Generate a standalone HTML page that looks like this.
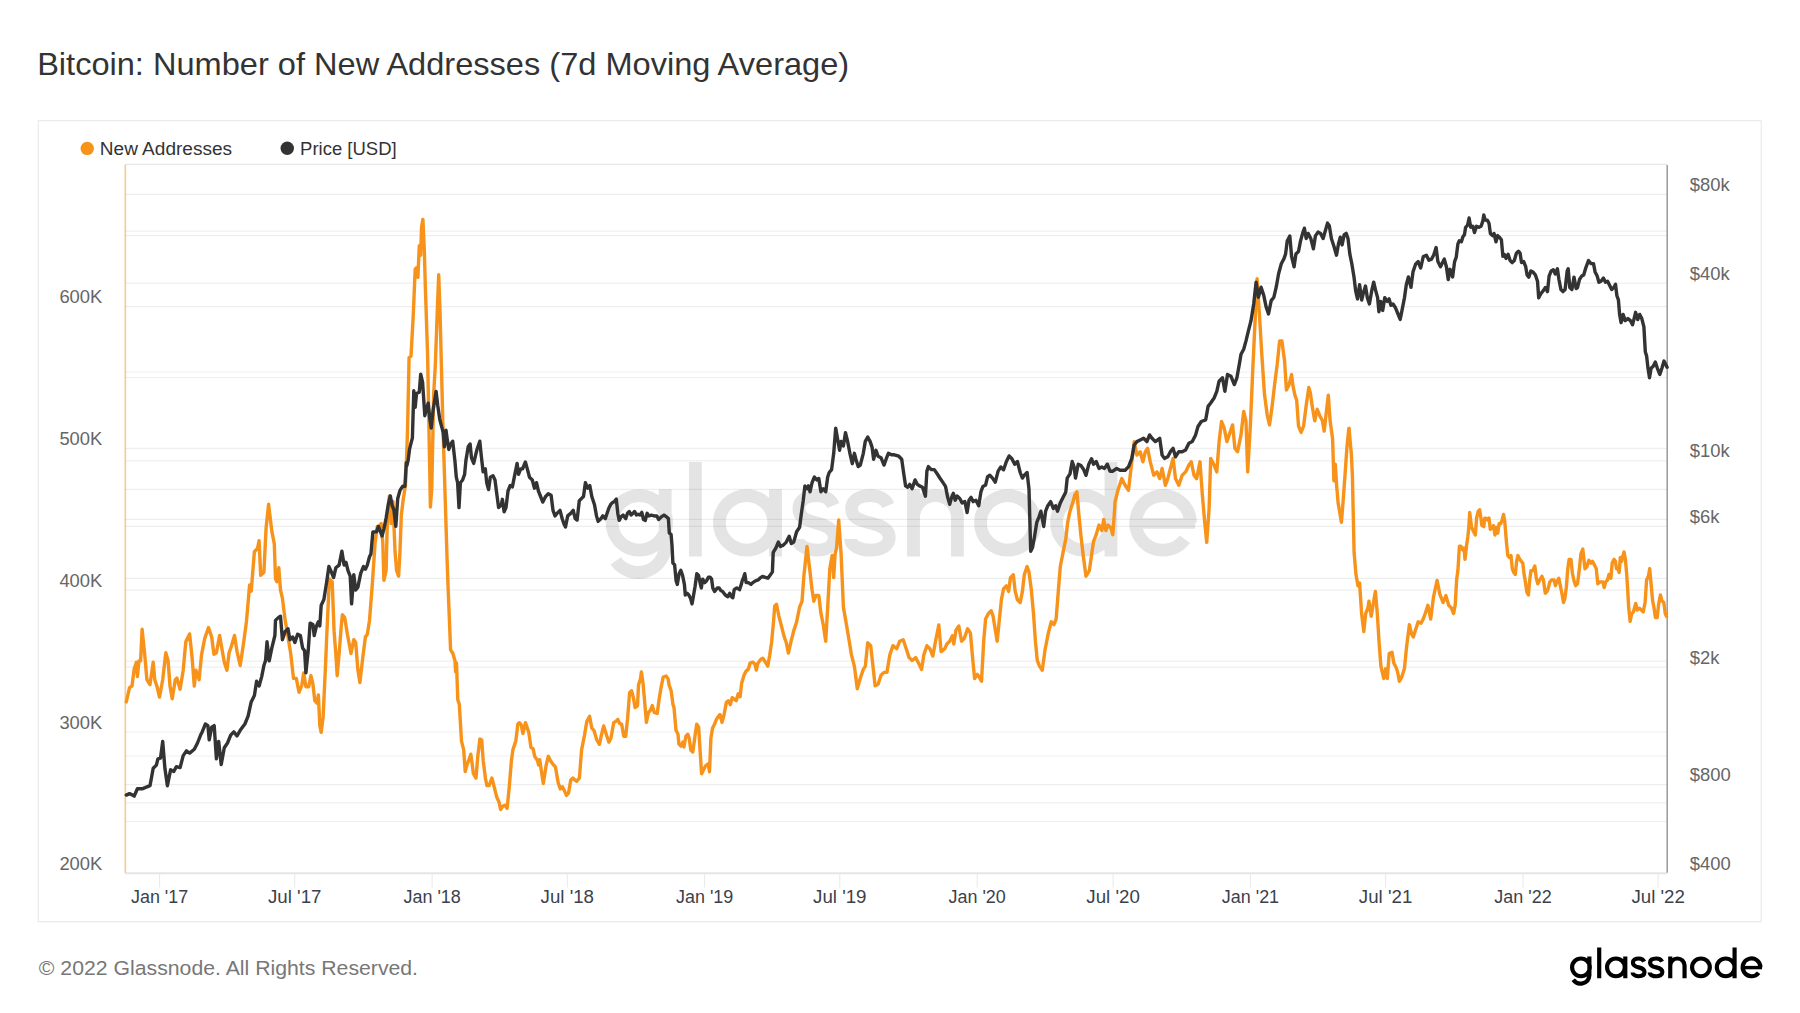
<!DOCTYPE html>
<html><head><meta charset="utf-8"><style>
html,body{margin:0;padding:0;background:#fff;width:1800px;height:1013px;overflow:hidden}
svg{display:block}
text{font-family:"Liberation Sans",sans-serif}
.title{font-size:31.7px;fill:#333}
.leg{font-size:18.8px;fill:#333}
.xl{font-size:18.7px;fill:#3b414c}
.yl{font-size:18.4px;fill:#666}
.foot{font-size:20.9px;fill:#777}
.logo{font-size:41px;fill:#000;stroke:#000;stroke-width:0.6px}
.wm{font-size:131px;fill:#e4e4e4}
</style></head><body>
<svg width="1800" height="1013" viewBox="0 0 1800 1013">
<text transform="translate(37.14,74.85) scale(1.0277,1)" class="title">Bitcoin: Number of New Addresses (7d Moving Average)</text>
<rect x="38.2" y="120.7" width="1723" height="801" fill="none" stroke="#e6e6e6" stroke-width="1"/>
<circle cx="87.25" cy="148.4" r="6.7" fill="#f7931a"/><text transform="translate(99.8,154.8) scale(1.0132,1)" class="leg">New Addresses</text>
<circle cx="287.25" cy="148.3" r="6.7" fill="#333"/><text transform="translate(300.1,154.9) scale(0.984,1)" class="leg">Price [USD]</text>
<g fill="none" stroke="#e4e4e4"><path d="M666.60 522.85 A27.25 27.25 0 1 0 612.10 522.85 A27.25 27.25 0 1 0 666.60 522.85 M665.20 489.20 V547.30 A27.25 27.25 0 0 1 615.75 560.92 M695.35 462.00 V556.50 M773.90 522.85 A27.25 27.25 0 1 0 719.40 522.85 A27.25 27.25 0 1 0 773.90 522.85 M775.50 489.20 V556.50 M833.40 505.5 C830.40 498.5 824.65 495.60 816.65 495.60 C806.90 495.60 798.90 500 798.90 508.5 C798.90 517 804.90 520 816.65 523 C828.40 526 834.40 530 834.40 537.5 C834.40 546 826.65 550.20 816.65 550.20 C807.90 550.20 797.90 546 797.90 539 M888.30 505.5 C885.30 498.5 878.45 495.60 870.45 495.60 C859.60 495.60 851.60 500 851.60 508.5 C851.60 517 857.60 520 870.45 523 C883.30 526 889.30 530 889.30 537.5 C889.30 546 880.45 550.20 870.45 550.20 C860.60 550.20 850.60 546 850.60 539 M913.50 489.20 V556.50 M913.50 556.50 V517.55 A21.95 21.95 0 0 1 957.40 517.55 V556.50 M1035.00 522.85 A27.25 27.25 0 1 0 980.50 522.85 A27.25 27.25 0 1 0 1035.00 522.85 M1111.00 522.85 A27.25 27.25 0 1 0 1056.50 522.85 A27.25 27.25 0 1 0 1111.00 522.85 M1111.00 462.00 V556.50 M1190.30 522.85 A27.25 27.25 0 1 0 1184.81 539.25" stroke-width="12.80"/><path d="M1131.40 523.6 H1195.20" stroke-width="10.5"/></g>
<g stroke="#000" stroke-opacity="0.065" stroke-width="1.2"><line x1="125" y1="235.7" x2="1667" y2="235.7"/><line x1="125" y1="306.6" x2="1667" y2="306.6"/><line x1="125" y1="377.5" x2="1667" y2="377.5"/><line x1="125" y1="448.4" x2="1667" y2="448.4"/><line x1="125" y1="519.3" x2="1667" y2="519.3"/><line x1="125" y1="590.2" x2="1667" y2="590.2"/><line x1="125" y1="661.1" x2="1667" y2="661.1"/><line x1="125" y1="732.0" x2="1667" y2="732.0"/><line x1="125" y1="802.9" x2="1667" y2="802.9"/><line x1="125" y1="873.8" x2="1667" y2="873.8"/><line x1="125" y1="194.3" x2="1667" y2="194.3"/><line x1="125" y1="231.1" x2="1667" y2="231.1"/><line x1="125" y1="283.1" x2="1667" y2="283.1"/><line x1="125" y1="372.0" x2="1667" y2="372.0"/><line x1="125" y1="460.8" x2="1667" y2="460.8"/><line x1="125" y1="489.4" x2="1667" y2="489.4"/><line x1="125" y1="526.3" x2="1667" y2="526.3"/><line x1="125" y1="578.3" x2="1667" y2="578.3"/><line x1="125" y1="667.1" x2="1667" y2="667.1"/><line x1="125" y1="756.0" x2="1667" y2="756.0"/><line x1="125" y1="784.6" x2="1667" y2="784.6"/><line x1="125" y1="821.5" x2="1667" y2="821.5"/></g>
<line x1="125" y1="164.3" x2="1667" y2="164.3" stroke="#e0e0e0" stroke-width="1"/>
<line x1="125" y1="873" x2="1667" y2="873" stroke="#d8d8d8" stroke-width="1"/>
<line x1="159.6" y1="873" x2="159.6" y2="887.5" stroke="#e8e8e8"/>
<text transform="translate(159.60,902.9) scale(0.960,1)" class="xl" text-anchor="middle">Jan '17</text>
<line x1="294.7" y1="873" x2="294.7" y2="887.5" stroke="#e8e8e8"/>
<text transform="translate(294.74,902.9) scale(1.000,1)" class="xl" text-anchor="middle">Jul '17</text>
<line x1="432.1" y1="873" x2="432.1" y2="887.5" stroke="#e8e8e8"/>
<text transform="translate(432.12,902.9) scale(0.960,1)" class="xl" text-anchor="middle">Jan '18</text>
<line x1="567.3" y1="873" x2="567.3" y2="887.5" stroke="#e8e8e8"/>
<text transform="translate(567.27,902.9) scale(1.000,1)" class="xl" text-anchor="middle">Jul '18</text>
<line x1="704.6" y1="873" x2="704.6" y2="887.5" stroke="#e8e8e8"/>
<text transform="translate(704.65,902.9) scale(0.960,1)" class="xl" text-anchor="middle">Jan '19</text>
<line x1="839.8" y1="873" x2="839.8" y2="887.5" stroke="#e8e8e8"/>
<text transform="translate(839.79,902.9) scale(1.000,1)" class="xl" text-anchor="middle">Jul '19</text>
<line x1="977.2" y1="873" x2="977.2" y2="887.5" stroke="#e8e8e8"/>
<text transform="translate(977.17,902.9) scale(0.960,1)" class="xl" text-anchor="middle">Jan '20</text>
<line x1="1113.1" y1="873" x2="1113.1" y2="887.5" stroke="#e8e8e8"/>
<text transform="translate(1113.06,902.9) scale(1.000,1)" class="xl" text-anchor="middle">Jul '20</text>
<line x1="1250.4" y1="873" x2="1250.4" y2="887.5" stroke="#e8e8e8"/>
<text transform="translate(1250.44,902.9) scale(0.960,1)" class="xl" text-anchor="middle">Jan '21</text>
<line x1="1385.6" y1="873" x2="1385.6" y2="887.5" stroke="#e8e8e8"/>
<text transform="translate(1385.58,902.9) scale(1.000,1)" class="xl" text-anchor="middle">Jul '21</text>
<line x1="1523.0" y1="873" x2="1523.0" y2="887.5" stroke="#e8e8e8"/>
<text transform="translate(1522.96,902.9) scale(0.960,1)" class="xl" text-anchor="middle">Jan '22</text>
<line x1="1658.1" y1="873" x2="1658.1" y2="887.5" stroke="#e8e8e8"/>
<text transform="translate(1658.11,902.9) scale(1.000,1)" class="xl" text-anchor="middle">Jul '22</text>
<text x="59.4" y="303.14" class="yl">600K</text>
<text x="59.4" y="444.93" class="yl">500K</text>
<text x="59.4" y="586.72" class="yl">400K</text>
<text x="59.4" y="728.51" class="yl">300K</text>
<text x="59.4" y="870.30" class="yl">200K</text>
<text x="1689.8" y="190.77" class="yl">$80k</text>
<text x="1689.8" y="279.62" class="yl">$40k</text>
<text x="1689.8" y="457.33" class="yl">$10k</text>
<text x="1689.8" y="522.81" class="yl">$6k</text>
<text x="1689.8" y="663.65" class="yl">$2k</text>
<text x="1689.8" y="781.11" class="yl">$800</text>
<text x="1689.8" y="869.96" class="yl">$400</text>
<line x1="125.3" y1="165" x2="125.3" y2="872.7" stroke="#f7931a" stroke-opacity="0.5" stroke-width="1.6"/>
<line x1="1667.2" y1="165" x2="1667.2" y2="872.8" stroke="#999" stroke-width="1.5"/>
<path d="M126.3 701.9 L129.5 687.6 L132.0 686.0 L134.2 668.7 L136.4 662.3 L137.4 676.6 L139.0 660.8 L140.6 660.8 L142.1 629.1 L144.7 654.4 L146.9 679.7 L150.0 684.5 L153.2 662.3 L154.8 679.7 L157.3 687.6 L159.5 697.1 L162.7 679.7 L165.8 652.8 L168.1 660.8 L170.0 686.0 L172.2 698.7 L175.3 679.7 L176.9 678.1 L180.1 689.2 L183.2 670.2 L185.8 641.8 L189.6 633.9 L192.1 657.6 L194.3 686.0 L195.9 670.2 L199.1 679.7 L201.6 654.4 L204.7 638.6 L208.5 627.5 L211.7 637.0 L213.9 654.4 L216.4 652.8 L219.6 635.5 L221.8 648.1 L224.3 662.3 L226.9 670.2 L229.1 652.8 L231.3 646.5 L234.5 635.5 L237.0 651.3 L240.2 665.5 L243.3 644.9 L246.5 621.2 L249.6 584.9 L251.2 591.2 L254.4 551.7 L257.5 548.5 L259.1 540.6 L260.7 575.4 L263.9 572.2 L266.1 527.9 L268.6 504.2 L271.8 531.1 L274.3 543.8 L275.5 578.9 L276.9 581.7 L278.8 567.8 L280.5 590.0 L282.4 598.2 L285.2 620.4 L288.0 637.0 L290.7 653.5 L293.5 678.4 L296.3 678.4 L299.0 692.3 L301.8 685.3 L303.7 672.9 L305.9 686.7 L308.7 686.7 L310.9 675.7 L312.9 684.0 L314.8 700.6 L317.0 703.3 L318.4 695.0 L319.8 725.4 L321.2 732.4 L323.1 717.1 L325.3 670.1 L326.7 637.0 L329.4 578.9 L332.2 581.7 L334.1 631.4 L335.8 653.5 L337.2 675.7 L339.1 653.5 L341.3 625.9 L342.4 614.8 L344.7 617.6 L347.4 634.2 L351.0 653.5 L353.8 639.7 L355.7 642.5 L357.9 670.1 L359.9 682.6 L362.6 659.1 L365.4 637.0 L367.3 634.2 L369.5 620.4 L372.3 584.4 L375.1 542.9 L377.3 526.4 L379.2 526.4 L381.2 523.6 L382.8 542.9 L383.9 580.3 L386.1 570.6 L387.5 515.3 L389.4 495.9 L391.1 523.6 L393.0 501.5 L395.0 551.2 L396.6 570.6 L398.6 576.1 L400.0 551.2 L401.3 515.3 L403.3 498.7 L405.5 484.9 L407.4 435.0 L409.1 357.6 L411.0 356.2 L413.2 316.1 L415.2 269.1 L416.5 267.7 L417.9 277.4 L419.3 245.6 L420.7 255.3 L421.5 227.6 L422.9 219.4 L424.3 249.8 L425.4 288.5 L427.6 354.8 L430.4 507.0 L431.8 487.6 L433.7 393.5 L435.3 365.9 L437.3 310.6 L438.7 274.7 L440.0 310.6 L442.8 421.2 L447.0 556.8 L448.0 585.0 L450.6 649.9 L452.8 653.2 L455.0 660.8 L455.6 671.7 L456.5 663.0 L457.8 699.9 L459.3 704.2 L461.5 741.1 L463.7 749.8 L465.2 771.5 L466.9 765.0 L468.6 760.7 L470.8 754.2 L472.3 765.0 L473.4 773.7 L476.0 778.0 L477.8 756.3 L479.9 739.0 L481.7 740.0 L483.2 760.7 L485.4 778.0 L486.9 785.6 L489.1 785.6 L491.9 778.0 L494.1 786.7 L496.9 797.6 L499.0 801.9 L500.6 809.5 L502.7 806.3 L504.9 805.2 L507.1 808.4 L509.3 786.7 L511.4 760.7 L512.9 749.8 L514.7 744.4 L515.8 741.1 L517.9 723.8 L519.5 722.7 L521.2 724.8 L522.9 733.5 L525.5 722.7 L528.8 732.4 L531.0 747.6 L533.1 748.7 L534.7 756.3 L537.5 760.7 L538.6 765.0 L539.7 759.6 L541.8 773.7 L543.3 783.5 L546.2 765.0 L548.3 756.3 L550.5 760.7 L552.7 763.9 L555.5 767.2 L558.1 782.4 L560.3 788.9 L562.4 786.7 L564.6 791.1 L566.4 795.4 L568.5 793.2 L570.7 780.2 L572.9 778.0 L575.0 780.2 L576.6 781.3 L579.4 778.0 L581.6 749.8 L584.6 734.6 L586.8 721.6 L589.6 716.2 L591.8 728.1 L593.9 730.3 L596.8 740.0 L599.4 744.4 L601.5 734.6 L603.7 725.9 L606.9 736.2 L608.9 742.1 L610.9 738.2 L613.8 722.4 L615.8 721.4 L617.8 719.4 L619.7 723.4 L621.7 724.3 L623.7 736.2 L625.7 736.2 L627.6 718.4 L629.6 692.8 L631.6 690.8 L633.6 698.7 L635.1 707.6 L637.5 705.6 L638.5 684.9 L640.5 678.9 L641.4 672.0 L643.0 682.9 L644.4 698.7 L646.4 722.4 L648.4 712.5 L650.3 710.5 L652.3 705.6 L654.3 712.5 L657.2 713.5 L659.2 698.7 L661.2 686.8 L663.2 677.0 L666.1 676.0 L668.1 678.9 L669.1 684.9 L671.1 690.8 L673.0 704.6 L674.0 707.6 L676.0 730.3 L678.0 734.2 L678.9 744.1 L680.9 746.1 L682.9 742.1 L683.9 747.0 L685.9 736.2 L687.8 734.2 L689.2 738.2 L690.8 750.0 L692.8 752.0 L694.7 738.2 L696.7 724.3 L698.7 727.3 L700.3 753.9 L701.6 773.7 L703.6 769.7 L705.6 765.8 L708.2 763.8 L709.5 771.7 L710.9 738.2 L712.5 728.3 L714.5 724.3 L716.4 719.4 L718.4 716.4 L720.0 714.5 L722.0 722.4 L723.9 715.5 L726.3 702.6 L728.3 700.7 L730.3 704.6 L732.2 697.7 L736.2 700.7 L738.2 693.8 L740.1 696.7 L741.7 682.9 L744.1 675.0 L746.1 671.1 L748.4 669.1 L750.0 663.2 L753.0 662.2 L754.9 664.1 L756.3 670.1 L757.9 663.2 L760.9 659.2 L762.8 658.2 L764.8 661.2 L767.8 666.1 L769.7 655.3 L771.7 641.4 L773.7 619.7 L774.7 605.9 L776.5 604.3 L778.9 616.1 L781.2 625.0 L784.2 636.8 L786.3 642.8 L788.4 653.1 L790.7 642.8 L793.7 630.9 L796.6 622.0 L799.6 607.2 L802.0 601.3 L804.0 574.7 L807.0 546.5 L810.0 571.7 L812.0 589.5 L813.8 601.3 L815.9 595.4 L818.8 595.4 L820.9 613.2 L823.3 625.0 L825.7 641.3 L827.7 607.2 L829.8 568.8 L832.2 555.4 L833.7 577.6 L835.1 553.9 L836.6 548.0 L838.7 519.9 L841.1 553.9 L843.4 607.2 L845.5 619.1 L848.5 636.8 L851.4 654.6 L854.4 666.4 L857.3 688.7 L860.3 678.3 L863.3 669.4 L865.3 666.4 L867.7 642.8 L870.7 645.7 L873.0 666.4 L875.1 685.7 L878.1 684.2 L881.0 675.3 L884.0 672.4 L886.9 672.4 L889.9 654.6 L892.9 645.7 L896.7 648.7 L899.7 641.3 L903.2 639.8 L906.2 648.7 L909.1 657.6 L912.1 660.5 L915.7 657.6 L919.5 665.0 L921.6 669.4 L923.9 654.6 L926.9 645.7 L929.9 648.7 L932.8 656.1 L935.8 639.8 L938.8 625.0 L941.1 651.6 L944.7 648.7 L946.9 644.0 L949.7 641.2 L952.4 635.7 L953.8 644.0 L956.0 630.1 L958.8 626.0 L961.6 641.2 L964.3 638.4 L967.6 628.8 L970.4 632.9 L972.6 657.8 L974.6 678.5 L977.3 674.4 L979.3 677.1 L981.5 681.3 L983.7 641.2 L985.6 619.1 L988.4 613.5 L991.2 610.8 L993.1 616.3 L995.3 630.1 L997.2 641.2 L999.4 619.1 L1001.4 599.7 L1003.6 588.7 L1006.4 585.9 L1008.6 591.4 L1010.5 577.6 L1013.3 574.8 L1015.2 591.4 L1017.4 599.7 L1020.2 602.5 L1022.4 591.4 L1024.3 574.8 L1027.1 566.5 L1029.0 572.1 L1031.2 588.7 L1033.5 613.5 L1035.4 641.2 L1037.3 660.6 L1039.5 666.1 L1042.3 670.2 L1045.1 649.5 L1048.4 632.9 L1051.2 621.8 L1053.9 624.6 L1056.1 619.1 L1058.3 591.4 L1060.3 566.5 L1063.0 552.7 L1065.8 538.9 L1067.7 522.3 L1070.0 511.2 L1072.7 502.9 L1074.9 494.7 L1076.9 491.9 L1078.8 514.0 L1081.0 536.1 L1083.2 555.5 L1086.0 576.2 L1089.3 570.7 L1091.5 555.5 L1093.5 541.7 L1096.2 534.7 L1099.0 525.1 L1101.8 530.6 L1103.7 519.5 L1105.9 530.6 L1108.1 525.1 L1110.9 527.8 L1112.8 534.7 L1114.7 508.5 L1115.0 502.1 L1118.4 488.7 L1121.8 478.6 L1125.1 485.3 L1128.5 490.3 L1131.8 461.8 L1134.2 441.6 L1136.9 455.1 L1140.2 451.7 L1142.9 461.8 L1145.3 451.7 L1147.6 448.4 L1150.3 461.8 L1153.7 475.2 L1157.0 471.9 L1159.7 478.6 L1162.1 468.5 L1165.4 485.3 L1167.8 478.6 L1170.4 468.5 L1173.1 458.4 L1175.5 478.6 L1178.8 485.3 L1182.2 475.2 L1185.6 471.9 L1188.9 465.1 L1191.3 461.8 L1194.0 475.2 L1196.6 478.6 L1200.0 461.8 L1202.4 495.4 L1204.7 522.2 L1206.7 542.4 L1209.1 508.8 L1210.7 458.4 L1214.1 465.1 L1216.8 471.9 L1219.1 441.6 L1221.5 421.5 L1224.2 428.2 L1226.9 441.6 L1229.2 434.9 L1232.6 424.9 L1234.9 448.4 L1237.6 451.7 L1241.0 434.9 L1243.7 411.4 L1246.0 421.5 L1247.7 471.9 L1250.4 424.9 L1252.7 371.1 L1255.1 320.7 L1257.1 278.8 L1259.4 314.0 L1261.8 354.3 L1264.5 394.6 L1267.2 414.8 L1269.5 424.9 L1271.9 408.1 L1274.6 384.6 L1277.2 364.4 L1279.6 340.9 L1281.9 340.9 L1284.6 361.0 L1286.4 390.0 L1289.0 384.9 L1291.6 374.6 L1292.8 384.9 L1294.9 395.1 L1296.7 400.3 L1298.5 426.0 L1301.1 432.4 L1303.6 426.0 L1306.2 405.4 L1308.8 387.4 L1310.3 392.6 L1312.1 405.4 L1314.7 420.8 L1317.2 409.3 L1319.8 415.7 L1322.4 420.8 L1324.2 431.1 L1326.2 413.1 L1328.3 395.1 L1330.1 420.8 L1332.6 438.8 L1333.9 480.8 L1335.3 464.2 L1336.7 486.4 L1338.1 502.9 L1341.4 522.3 L1343.0 502.9 L1345.0 475.3 L1346.9 447.6 L1348.8 428.5 L1349.1 428.3 L1350.6 446.5 L1351.3 453.2 L1352.4 475.3 L1353.3 516.8 L1354.1 552.7 L1356.0 574.8 L1358.0 585.9 L1359.6 583.1 L1361.6 613.5 L1363.8 631.5 L1365.7 613.5 L1367.9 608.0 L1369.0 601.1 L1371.2 616.3 L1373.5 602.5 L1375.4 591.4 L1377.3 613.5 L1379.0 641.2 L1380.9 666.1 L1383.7 678.5 L1385.6 668.8 L1387.3 678.5 L1389.2 653.6 L1392.0 652.3 L1393.9 663.3 L1396.1 667.5 L1397.5 671.6 L1399.4 681.3 L1401.7 677.1 L1404.4 668.8 L1406.6 646.7 L1409.4 624.6 L1411.3 632.9 L1413.3 637.1 L1415.5 630.1 L1418.2 621.8 L1421.0 623.2 L1423.2 619.1 L1425.2 613.5 L1427.9 605.3 L1430.7 619.1 L1433.5 597.0 L1437.1 580.4 L1439.8 594.2 L1443.1 602.5 L1445.9 595.6 L1448.7 605.3 L1451.4 608.0 L1453.6 613.5 L1455.3 604.4 L1456.6 580.0 L1457.9 570.6 L1459.4 546.3 L1460.9 546.3 L1462.8 550.0 L1464.1 548.1 L1465.0 559.4 L1466.5 546.3 L1467.8 536.9 L1468.8 527.5 L1469.7 512.5 L1471.6 527.5 L1473.4 531.3 L1475.3 535.0 L1476.6 518.1 L1478.1 511.6 L1479.6 509.7 L1480.9 518.1 L1481.9 525.6 L1483.8 526.6 L1484.7 518.1 L1486.0 518.1 L1487.5 520.0 L1489.0 518.1 L1490.3 529.4 L1492.2 527.5 L1493.5 525.6 L1495.0 535.0 L1496.5 527.5 L1497.8 533.1 L1499.1 523.8 L1500.6 523.8 L1502.1 520.0 L1503.5 514.4 L1504.8 521.9 L1506.3 540.6 L1507.8 555.6 L1509.6 557.5 L1511.0 555.6 L1512.3 568.8 L1513.8 572.5 L1515.3 574.4 L1516.6 561.3 L1517.9 555.6 L1519.8 559.4 L1521.3 561.3 L1522.8 563.1 L1524.1 574.4 L1525.4 581.9 L1526.9 592.2 L1528.4 595.0 L1529.7 580.0 L1531.0 570.6 L1532.9 570.6 L1534.8 566.0 L1536.3 578.2 L1537.8 583.8 L1539.7 580.0 L1541.9 576.3 L1543.4 580.0 L1545.3 593.2 L1547.2 591.3 L1548.5 587.5 L1549.8 581.9 L1551.7 580.0 L1554.1 580.0 L1555.4 585.7 L1556.9 581.9 L1558.8 578.2 L1560.7 587.5 L1562.2 595.0 L1563.5 602.5 L1564.8 598.8 L1566.3 587.5 L1567.8 568.8 L1569.1 559.4 L1571.0 559.4 L1572.3 572.5 L1573.8 580.0 L1575.7 585.7 L1577.5 583.8 L1579.4 568.8 L1580.9 553.8 L1582.8 549.1 L1584.1 561.3 L1585.0 568.8 L1586.9 566.9 L1588.8 560.3 L1591.0 563.1 L1592.5 561.3 L1594.4 565.0 L1596.3 568.8 L1597.8 583.8 L1600.0 581.9 L1602.9 581.9 L1604.2 587.5 L1605.7 581.9 L1607.5 580.0 L1609.0 574.4 L1610.9 578.2 L1612.2 563.1 L1614.1 559.4 L1615.4 561.3 L1616.5 568.8 L1617.9 568.8 L1619.2 572.5 L1620.3 557.5 L1621.6 561.3 L1622.5 557.5 L1624.0 551.9 L1625.4 559.4 L1626.7 574.4 L1627.8 591.3 L1628.6 606.3 L1630.1 621.3 L1631.6 613.8 L1633.4 611.9 L1635.7 603.5 L1637.2 610.0 L1639.4 608.2 L1641.3 610.0 L1643.2 611.9 L1645.1 602.5 L1646.6 580.0 L1648.4 576.3 L1649.7 568.8 L1651.1 583.8 L1652.6 600.7 L1654.1 608.2 L1655.4 617.5 L1657.2 617.5 L1658.6 604.4 L1660.4 595.0 L1661.9 600.7 L1663.8 602.5 L1665.3 613.8 L1666.6 616.6" fill="none" stroke="#f7931a" stroke-width="3.4" stroke-linejoin="round" stroke-linecap="round"/>
<path d="M126.3 795.1 L129.5 793.6 L134.2 796.1 L137.4 788.8 L142.1 788.8 L150.0 785.7 L153.2 768.3 L156.4 765.1 L157.9 758.8 L160.5 758.1 L162.7 741.4 L164.9 768.3 L167.4 785.7 L170.6 769.8 L173.8 771.4 L176.3 766.7 L180.1 767.6 L183.2 755.6 L186.4 750.9 L189.6 753.1 L194.3 749.3 L197.5 743.0 L200.6 735.1 L202.2 731.9 L205.4 724.0 L207.9 725.6 L209.2 739.8 L211.7 727.2 L214.2 725.6 L216.4 758.8 L218.7 741.4 L221.2 764.5 L224.3 747.7 L227.5 743.0 L230.7 735.1 L233.8 731.9 L237.0 736.0 L240.2 730.3 L244.9 724.0 L248.1 716.1 L251.2 701.9 L254.4 695.5 L256.6 681.3 L259.1 686.0 L261.7 676.6 L263.9 665.5 L265.5 660.8 L267.0 641.8 L269.2 660.8 L271.8 648.1 L274.9 635.5 L275.5 620.4 L278.3 617.6 L280.5 616.2 L282.4 639.7 L285.2 631.4 L288.0 628.7 L289.9 639.7 L292.7 637.0 L294.9 642.5 L297.6 634.2 L300.4 635.6 L302.6 648.0 L304.6 650.8 L305.9 672.9 L308.2 650.8 L310.1 623.1 L312.9 624.5 L314.2 635.6 L316.5 625.9 L318.4 621.8 L319.8 625.9 L321.2 605.2 L323.9 599.6 L326.7 581.7 L328.9 566.5 L330.8 570.6 L333.6 577.5 L335.8 567.8 L339.1 565.1 L341.9 551.2 L344.1 565.1 L346.0 562.3 L348.0 570.6 L350.2 576.1 L351.6 603.8 L353.8 574.7 L355.7 590.0 L357.9 587.2 L360.7 573.4 L363.5 566.5 L365.4 569.2 L367.3 565.1 L369.5 556.8 L370.9 554.0 L372.9 531.9 L376.5 531.9 L378.4 526.4 L380.6 531.9 L382.0 536.0 L383.9 529.1 L386.1 518.1 L388.3 504.2 L390.3 495.9 L392.2 505.6 L393.9 509.8 L395.8 526.4 L397.7 498.7 L400.0 490.4 L402.7 486.3 L404.9 486.3 L406.3 462.7 L406.9 465.5 L408.2 459.9 L409.6 448.8 L412.4 437.8 L413.8 390.8 L415.2 407.4 L416.5 393.5 L419.3 392.2 L420.7 374.2 L422.6 382.5 L424.8 415.7 L426.2 410.1 L428.2 403.2 L429.8 418.4 L431.2 428.1 L433.1 410.1 L436.1 391.5 L437.7 405.3 L439.7 419.1 L441.1 424.7 L443.3 432.9 L444.4 446.8 L446.0 430.2 L447.1 438.5 L448.8 449.5 L450.7 444.0 L452.7 441.2 L454.9 460.6 L456.3 477.2 L457.6 482.7 L459.0 507.6 L460.4 482.7 L462.6 480.0 L464.6 474.4 L465.9 460.6 L468.2 446.8 L470.1 444.0 L471.5 457.8 L473.7 463.4 L475.6 455.1 L477.0 449.5 L479.8 441.2 L481.2 455.1 L483.1 471.7 L485.3 468.9 L486.7 482.7 L488.6 489.6 L490.3 477.2 L493.0 475.8 L495.0 480.0 L496.4 491.0 L498.6 507.6 L501.3 504.8 L502.4 499.3 L504.1 511.8 L506.0 507.6 L508.0 491.0 L510.2 485.5 L512.4 486.9 L514.3 477.2 L517.1 463.4 L518.5 474.4 L520.7 468.9 L522.6 468.9 L525.4 462.0 L527.3 468.9 L529.5 477.2 L532.3 480.0 L534.5 488.2 L536.5 482.7 L538.4 491.0 L540.6 496.5 L542.8 502.1 L545.6 496.5 L548.3 493.8 L551.1 495.2 L553.0 510.4 L555.0 515.9 L557.2 513.1 L560.0 510.4 L562.2 518.7 L564.1 524.2 L565.5 527.0 L567.7 515.9 L571.0 513.1 L573.2 510.4 L575.2 518.7 L577.1 520.0 L579.3 500.7 L582.1 497.9 L583.5 496.5 L585.4 482.7 L587.6 488.2 L589.8 485.5 L591.8 496.5 L594.5 504.8 L596.5 515.9 L598.1 521.4 L600.9 518.7 L602.8 515.9 L605.3 518.6 L607.1 513.3 L608.9 508.0 L610.7 504.4 L612.4 502.6 L614.2 501.8 L616.3 499.1 L617.8 513.3 L619.2 520.4 L621.0 516.9 L623.1 515.1 L625.8 518.6 L627.5 513.3 L629.3 511.5 L631.1 515.1 L632.9 513.3 L634.6 511.5 L636.4 515.1 L638.2 514.2 L640.0 515.1 L641.8 512.4 L643.5 519.5 L645.3 520.4 L647.1 513.3 L648.9 516.0 L651.5 515.1 L654.2 516.0 L656.9 516.0 L658.6 519.5 L661.3 516.9 L664.0 515.1 L666.6 516.9 L668.4 518.6 L669.3 532.9 L671.1 534.6 L672.0 545.3 L672.9 563.1 L674.6 564.8 L676.1 580.8 L677.3 584.4 L679.1 573.7 L680.8 570.2 L682.6 575.5 L684.4 584.4 L685.3 595.0 L687.1 593.3 L688.8 595.0 L690.6 598.6 L692.0 603.9 L693.3 596.8 L695.1 586.2 L696.8 573.7 L698.6 575.5 L700.4 584.4 L701.3 587.9 L702.7 579.1 L704.8 582.6 L706.6 580.8 L708.4 577.3 L710.2 577.3 L711.6 579.1 L712.8 587.9 L714.6 591.5 L717.3 587.9 L719.1 587.9 L720.8 590.6 L722.6 591.5 L725.3 595.0 L727.9 596.8 L729.7 593.3 L731.5 596.8 L732.9 597.7 L734.2 589.7 L736.8 587.9 L739.5 589.7 L741.3 584.4 L742.2 580.8 L743.6 577.3 L744.8 573.7 L746.1 582.6 L748.4 582.6 L751.0 584.4 L752.8 582.6 L755.5 580.8 L758.1 579.9 L759.9 578.2 L762.6 576.4 L765.3 577.3 L767.9 578.2 L770.6 574.6 L772.4 571.9 L773.2 552.4 L775.9 548.0 L778.3 542.1 L780.4 546.5 L783.3 545.1 L786.3 542.1 L789.2 536.2 L791.3 543.6 L793.7 542.1 L796.6 531.7 L799.6 527.3 L801.1 515.5 L803.2 500.7 L804.9 485.9 L807.0 488.8 L808.5 485.9 L810.0 491.8 L812.0 482.9 L814.4 477.0 L816.8 479.9 L818.8 478.5 L820.9 491.8 L823.3 488.8 L825.7 491.8 L827.7 477.0 L829.2 472.5 L831.6 469.6 L833.7 453.3 L835.7 428.1 L837.5 438.5 L839.6 450.3 L841.1 441.4 L843.4 445.9 L845.5 432.6 L847.6 441.4 L849.9 453.3 L852.3 463.7 L854.4 453.3 L855.9 459.2 L858.2 466.6 L860.3 465.1 L863.3 453.3 L865.3 441.4 L867.7 437.0 L870.1 441.4 L872.1 447.4 L873.6 459.2 L876.0 450.3 L878.1 456.2 L881.0 457.7 L884.0 465.1 L886.1 459.2 L888.4 453.3 L891.4 454.8 L894.3 454.8 L898.8 456.2 L901.7 459.2 L903.8 474.0 L905.6 485.9 L907.7 487.3 L909.7 484.4 L912.1 488.8 L915.1 479.9 L917.4 484.4 L919.5 485.9 L922.5 487.3 L925.4 496.2 L926.9 471.1 L928.4 466.6 L931.3 469.6 L934.3 469.6 L937.3 474.0 L940.2 478.5 L943.2 482.9 L945.5 486.4 L947.7 497.4 L949.7 504.3 L951.6 497.4 L953.3 493.3 L955.2 500.2 L957.1 496.0 L959.9 498.8 L962.1 502.9 L964.9 501.6 L967.1 512.6 L969.0 500.2 L971.0 497.4 L973.2 501.6 L975.9 500.2 L978.7 505.7 L980.9 491.9 L982.9 486.4 L985.6 485.0 L987.6 476.7 L989.8 475.3 L992.5 478.1 L995.3 482.2 L998.1 471.2 L1000.8 467.0 L1003.6 469.8 L1006.4 461.5 L1009.1 455.9 L1011.9 458.7 L1014.7 464.2 L1017.4 461.5 L1020.2 472.5 L1022.4 478.1 L1024.3 475.3 L1027.1 472.5 L1029.0 489.1 L1030.7 551.3 L1032.6 547.2 L1034.6 536.1 L1036.8 522.3 L1039.0 516.8 L1040.9 511.2 L1043.7 526.5 L1045.6 511.2 L1047.8 505.7 L1050.6 501.6 L1053.4 508.5 L1055.6 505.7 L1057.5 511.2 L1060.3 502.9 L1063.0 497.4 L1065.8 491.9 L1067.2 478.1 L1070.0 473.9 L1072.2 461.5 L1074.1 467.0 L1075.5 478.1 L1078.2 464.2 L1081.0 465.6 L1083.8 469.8 L1086.0 475.3 L1088.8 464.2 L1091.5 458.7 L1093.5 464.2 L1096.2 461.5 L1099.0 468.4 L1101.8 467.0 L1104.5 468.4 L1107.3 464.2 L1110.0 471.2 L1112.8 471.2 L1116.7 468.5 L1120.1 470.2 L1125.1 470.2 L1128.5 466.8 L1131.8 458.4 L1134.2 445.0 L1136.9 441.6 L1140.2 440.0 L1143.6 438.3 L1146.9 441.6 L1149.6 434.9 L1152.0 438.3 L1155.3 441.6 L1159.7 438.3 L1162.1 455.1 L1164.4 458.4 L1167.8 456.8 L1170.4 451.7 L1173.1 448.4 L1175.5 456.8 L1178.8 451.7 L1182.2 451.7 L1185.6 450.0 L1188.9 443.3 L1192.3 441.6 L1195.6 434.9 L1198.0 426.5 L1201.3 421.5 L1205.7 419.8 L1208.1 406.4 L1210.7 403.0 L1214.1 398.0 L1216.8 391.3 L1219.1 381.2 L1222.5 377.8 L1224.9 391.3 L1227.5 374.5 L1230.9 376.2 L1234.3 384.6 L1236.9 377.8 L1239.3 364.4 L1241.0 354.3 L1243.7 349.3 L1246.0 340.9 L1248.4 330.8 L1251.0 320.7 L1253.7 304.0 L1256.1 282.1 L1258.4 297.2 L1261.1 287.2 L1263.8 295.6 L1266.2 307.3 L1268.5 314.0 L1271.2 300.6 L1273.9 297.2 L1276.2 287.2 L1278.6 273.7 L1281.3 263.7 L1284.0 258.6 L1285.6 253.9 L1287.2 241.1 L1289.8 235.9 L1291.6 256.5 L1294.1 266.8 L1295.9 253.9 L1298.5 251.4 L1300.5 241.1 L1302.6 233.4 L1304.4 228.2 L1306.2 238.5 L1308.2 233.4 L1310.8 238.5 L1313.4 248.8 L1315.4 235.9 L1318.0 232.1 L1320.6 233.4 L1323.1 238.5 L1325.7 229.5 L1327.5 223.1 L1329.3 225.7 L1331.4 238.5 L1333.9 246.2 L1336.5 255.2 L1338.5 243.7 L1340.3 237.2 L1342.1 244.9 L1344.2 234.7 L1346.2 233.4 L1348.0 238.5 L1349.8 253.9 L1351.9 264.2 L1354.0 277.0 L1355.7 291.2 L1357.5 298.9 L1359.6 284.7 L1361.7 300.1 L1363.5 292.4 L1365.5 286.0 L1367.3 297.6 L1369.4 304.0 L1371.9 289.9 L1373.7 282.2 L1375.5 289.9 L1377.6 297.6 L1378.9 311.7 L1380.7 301.4 L1382.7 310.4 L1384.8 297.6 L1387.3 301.4 L1389.1 298.9 L1390.9 305.3 L1393.0 304.0 L1395.5 307.8 L1397.6 313.0 L1400.2 319.4 L1402.0 310.4 L1404.5 297.6 L1406.3 284.7 L1408.4 277.0 L1411.0 287.3 L1413.0 271.9 L1415.6 264.2 L1418.1 261.6 L1420.7 268.0 L1423.3 256.5 L1426.4 255.2 L1428.9 260.3 L1431.5 259.1 L1433.6 255.2 L1436.1 247.5 L1437.9 261.6 L1440.5 266.8 L1444.3 259.1 L1446.4 266.8 L1448.2 279.6 L1450.0 269.3 L1452.6 277.0 L1454.6 261.6 L1456.2 257.4 L1457.9 243.9 L1459.3 240.8 L1461.4 241.8 L1462.9 236.7 L1464.5 234.6 L1465.6 227.3 L1467.6 225.2 L1469.1 218.0 L1470.7 227.3 L1472.8 226.3 L1474.5 232.5 L1476.5 226.3 L1479.0 227.3 L1481.1 226.3 L1482.8 221.1 L1483.8 214.9 L1485.2 220.1 L1487.3 220.1 L1489.0 223.2 L1490.4 233.5 L1492.5 235.6 L1494.0 233.5 L1496.0 241.8 L1497.7 235.6 L1499.8 237.7 L1501.4 239.8 L1502.9 256.4 L1504.3 254.3 L1506.0 258.4 L1508.1 254.3 L1510.1 260.5 L1512.2 262.6 L1514.3 260.5 L1516.4 253.2 L1518.4 251.2 L1520.1 253.2 L1521.5 262.6 L1523.6 261.5 L1525.7 266.7 L1527.1 275.0 L1528.8 277.1 L1530.9 270.9 L1532.9 271.9 L1535.4 275.0 L1537.5 281.2 L1538.7 297.8 L1540.8 293.7 L1543.3 290.6 L1545.4 287.5 L1547.5 291.6 L1549.1 276.1 L1551.2 270.9 L1553.3 269.8 L1555.3 274.0 L1557.4 268.8 L1558.9 279.2 L1560.9 289.5 L1563.0 291.6 L1565.1 289.5 L1567.2 270.9 L1568.2 268.8 L1569.8 287.5 L1571.9 289.5 L1574.0 277.1 L1576.1 288.5 L1577.5 287.5 L1579.6 279.2 L1581.7 276.1 L1583.7 275.0 L1585.8 267.8 L1588.5 260.5 L1591.0 263.6 L1593.5 263.6 L1595.1 271.9 L1597.2 276.1 L1598.9 282.3 L1601.0 281.2 L1603.4 278.1 L1605.5 282.3 L1607.6 281.2 L1609.7 285.4 L1611.7 289.5 L1613.8 287.5 L1615.5 284.3 L1616.9 295.7 L1618.4 299.9 L1619.6 314.4 L1621.1 322.7 L1623.1 314.4 L1625.2 320.6 L1627.9 318.6 L1630.4 320.6 L1632.5 324.8 L1634.1 318.6 L1635.6 312.3 L1637.7 319.6 L1639.7 314.4 L1641.8 318.6 L1643.9 326.9 L1645.3 351.7 L1646.6 355.9 L1648.0 368.3 L1649.5 377.7 L1651.1 368.3 L1653.2 366.2 L1655.3 362.1 L1657.4 368.3 L1659.8 374.5 L1661.9 368.3 L1664.0 361.1 L1665.6 364.2 L1667.1 367.3" fill="none" stroke="#333333" stroke-width="3.4" stroke-linejoin="round" stroke-linecap="round"/>
<text transform="translate(38.8,974.7) scale(1.0167,1)" class="foot">© 2022 Glassnode. All Rights Reserved.</text>
<g fill="none" stroke="#000" transform="translate(1570,978.3) scale(0.3257) translate(-605.7,-556.5)"><path d="M666.60 522.85 A27.25 27.25 0 1 0 612.10 522.85 A27.25 27.25 0 1 0 666.60 522.85 M665.20 489.20 V547.30 A27.25 27.25 0 0 1 615.75 560.92 M695.35 462.00 V556.50 M773.90 522.85 A27.25 27.25 0 1 0 719.40 522.85 A27.25 27.25 0 1 0 773.90 522.85 M775.50 489.20 V556.50 M833.40 505.5 C830.40 498.5 824.65 495.60 816.65 495.60 C806.90 495.60 798.90 500 798.90 508.5 C798.90 517 804.90 520 816.65 523 C828.40 526 834.40 530 834.40 537.5 C834.40 546 826.65 550.20 816.65 550.20 C807.90 550.20 797.90 546 797.90 539 M888.30 505.5 C885.30 498.5 878.45 495.60 870.45 495.60 C859.60 495.60 851.60 500 851.60 508.5 C851.60 517 857.60 520 870.45 523 C883.30 526 889.30 530 889.30 537.5 C889.30 546 880.45 550.20 870.45 550.20 C860.60 550.20 850.60 546 850.60 539 M913.50 489.20 V556.50 M913.50 556.50 V517.55 A21.95 21.95 0 0 1 957.40 517.55 V556.50 M1035.00 522.85 A27.25 27.25 0 1 0 980.50 522.85 A27.25 27.25 0 1 0 1035.00 522.85 M1111.00 522.85 A27.25 27.25 0 1 0 1056.50 522.85 A27.25 27.25 0 1 0 1111.00 522.85 M1111.00 462.00 V556.50 M1190.30 522.85 A27.25 27.25 0 1 0 1184.81 539.25" stroke-width="12.80"/><path d="M1131.40 523.6 H1195.20" stroke-width="10.5"/></g>
</svg></body></html>
